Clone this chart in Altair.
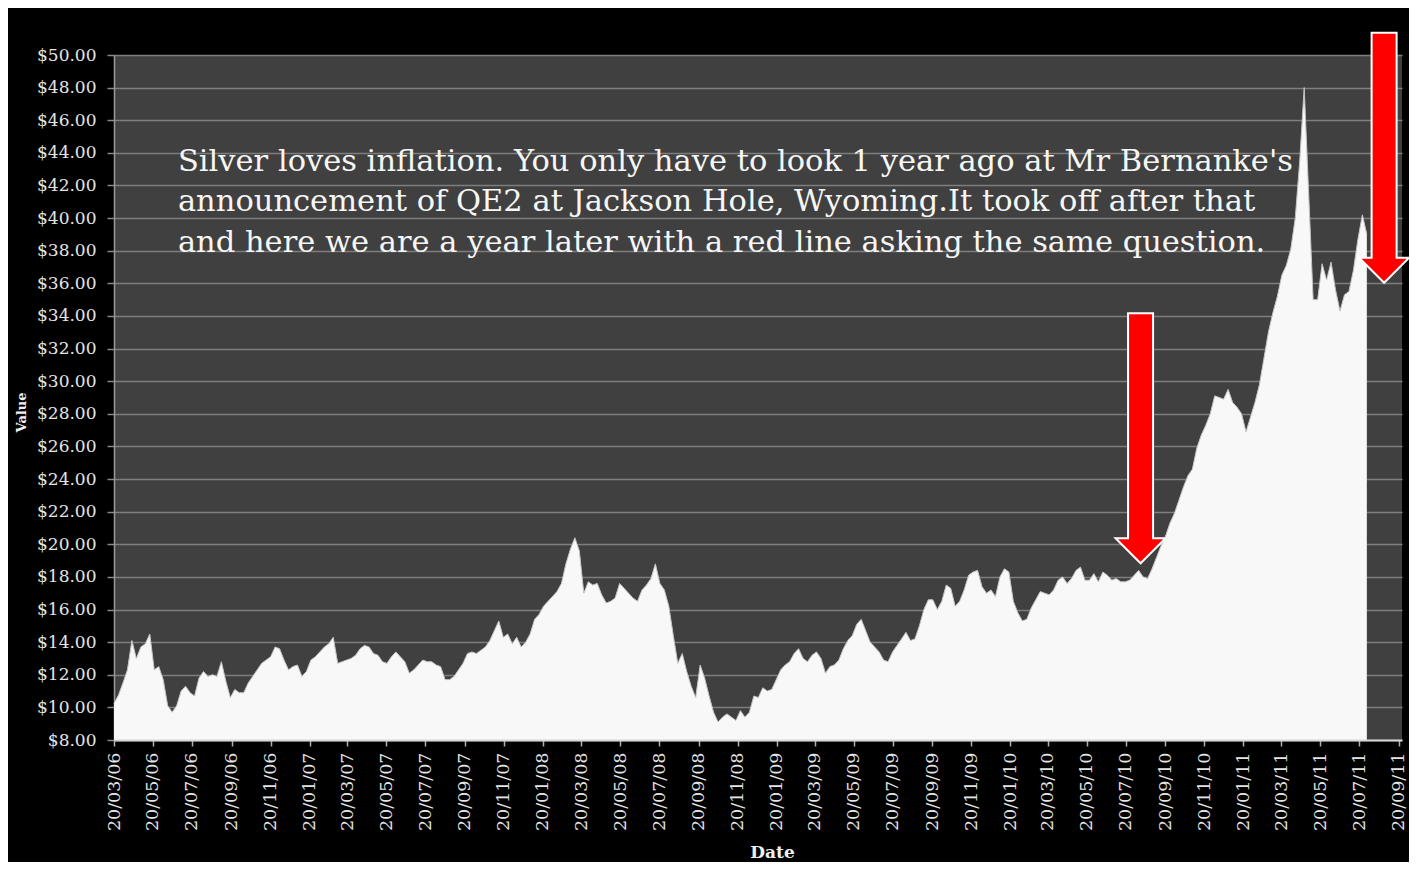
import altair as alt
import pandas as pd

# Weekly silver price readings (USD/oz), starting 20/03/2006
prices = [
    10.25, 10.75, 11.5, 12.3, 14.1, 13.0, 13.7, 13.9, 14.5, 12.3,
    12.5, 11.7, 10.1, 9.7, 10.1, 11.0, 11.3, 10.9, 10.7, 11.8,
    12.2, 11.9, 12.0, 11.9, 12.8, 11.6, 10.6, 11.1, 10.9, 10.9,
    11.5, 11.9, 12.3, 12.7, 12.9, 13.1, 13.7, 13.6, 12.9, 12.3,
    12.5, 12.6, 11.9, 12.2, 12.9, 13.1, 13.4, 13.7, 13.9, 14.3,
    12.7, 12.8, 12.9, 13.0, 13.2, 13.6, 13.8, 13.7, 13.3, 13.2,
    12.8, 12.7, 13.1, 13.4, 13.1, 12.8, 12.1, 12.3, 12.6, 12.9,
    12.8, 12.8, 12.6, 12.5, 11.7, 11.7, 11.9, 12.3, 12.7, 13.3,
    13.4, 13.3, 13.5, 13.7, 14.1, 14.7, 15.3, 14.3, 14.5, 13.9,
    14.3, 13.7, 14.0, 14.5, 15.4, 15.7, 16.2, 16.5, 16.8, 17.1,
    17.6, 18.8, 19.7, 20.4, 19.6, 17.0, 17.7, 17.5, 17.6, 16.9,
    16.4, 16.5, 16.7, 17.6, 17.3, 17.0, 16.7, 16.5, 17.2, 17.5,
    17.9, 18.8, 17.6, 17.2, 16.2, 14.4, 12.7, 13.3, 12.2, 11.3,
    10.6, 12.6, 11.8, 10.7, 9.7, 9.1, 9.4, 9.6, 9.4, 9.2,
    9.8, 9.4, 9.7, 10.7, 10.6, 11.2, 11.0, 11.1, 11.7, 12.3,
    12.6, 12.8, 13.3, 13.6, 13.0, 12.8, 13.2, 13.4, 13.0, 12.1,
    12.5, 12.6, 12.9, 13.6, 14.1, 14.4, 15.1, 15.4, 14.7, 14.0,
    13.7, 13.4, 12.9, 12.8, 13.4, 13.8, 14.2, 14.6, 14.1, 14.2,
    15.0, 16.0, 16.6, 16.6, 16.0, 16.5, 17.5, 17.3, 16.2, 16.5,
    17.2, 18.1, 18.3, 18.4, 17.4, 17.0, 17.2, 16.8, 18.0, 18.5,
    18.3, 16.5, 15.8, 15.3, 15.4, 16.1, 16.6, 17.1, 17.0, 16.9,
    17.2, 17.8, 18.0, 17.6, 17.9, 18.4, 18.6, 17.8, 17.8, 18.2,
    17.7, 18.3, 18.1, 17.8, 17.9, 17.7, 17.7, 17.8, 18.1, 18.4,
    18.0, 17.9, 18.5, 19.2, 19.9, 20.5, 21.3, 21.9, 22.7, 23.5,
    24.2, 24.6, 25.9, 26.7, 27.3, 28.0, 29.1, 29.0, 28.9, 29.5,
    28.7, 28.4, 28.0, 26.9, 27.8, 28.7, 29.8, 31.4, 33.0, 34.2,
    35.2, 36.5, 37.1, 38.1, 40.0, 43.5, 48.0, 41.5, 35.0, 35.0,
    37.2, 36.2, 37.3, 35.6, 34.3, 35.3, 35.5, 36.8, 38.7, 40.2,
    39.0,
]
first_date = "2006-03-20"
dates = pd.date_range(first_date, periods=len(prices), freq="7D")
df = pd.DataFrame({"Date": dates, "Value": prices})

x_tick_labels = [
    "20/03/06", "20/05/06", "20/07/06", "20/09/06", "20/11/06",
    "20/01/07", "20/03/07", "20/05/07", "20/07/07", "20/09/07", "20/11/07",
    "20/01/08", "20/03/08", "20/05/08", "20/07/08", "20/09/08", "20/11/08",
    "20/01/09", "20/03/09", "20/05/09", "20/07/09", "20/09/09", "20/11/09",
    "20/01/10", "20/03/10", "20/05/10", "20/07/10", "20/09/10", "20/11/10",
    "20/01/11", "20/03/11", "20/05/11", "20/07/11", "20/09/11",
]
y_ticks = [8, 10, 12, 14, 16, 18, 20, 22, 24, 26, 28, 30, 32, 34, 36, 38,
           40, 42, 44, 46, 48, 50]
y_floor = 8


def to_dt(s):
    return alt.DateTime(year=2000 + int(s[6:8]), month=int(s[3:5]), date=int(s[0:2]))


x_ticks = [to_dt(s) for s in x_tick_labels]
x_domain = [alt.DateTime(year=2006, month=3, date=20),
            alt.DateTime(year=2011, month=9, date=25)]

annotation_lines = [
    "Silver loves inflation. You only have to look 1 year ago at Mr Bernanke's",
    "announcement of QE2 at Jackson Hole, Wyoming.It took off after that",
    "and here we are a year later with a red line asking the same question.",
]
annot_df = pd.DataFrame({"Date": [pd.Timestamp("2006-06-28")], "Value": [42.9]})

arrow_dates = ["2010-08-12", "2011-08-28"]
arrow_values = [26.5, 43.7]
arrow_df = pd.DataFrame({"Date": pd.to_datetime(arrow_dates), "Value": arrow_values})
arrow_path = "M -0.5 -5 L 0.5 -5 L 0.5 4 L 1 4 L 0 5 L -1 4 L -0.5 4 Z"

FONT = "DejaVu Serif"

x_enc = alt.X(
    "Date:T",
    scale=alt.Scale(domain=x_domain),
    axis=alt.Axis(
        values=x_ticks, tickCount=100, format="%d/%m/%y", labelAngle=-90,
        labelAlign="right", labelBaseline="middle", labelFont=FONT,
        labelFontSize=17.5, labelColor="#e4e4e4", labelPadding=6,
        labelOverlap=False, labelFlush=False,
        tickColor="#b0b0b0", tickSize=6, tickWidth=1.5,
        domainColor="#d6d6d6", domainWidth=2, grid=False, zindex=1,
        title="Date", titleFont=FONT, titleFontSize=17, titleFontWeight="bold",
        titleColor="#f0f0f0", titleX=658, titleY=117, titleBaseline="alphabetic",
    ),
)
y_enc = alt.Y(
    "Value:Q",
    scale=alt.Scale(domain=[8, 50], nice=False, zero=False),
    axis=alt.Axis(
        values=y_ticks, tickCount=100, format="$.2f", labelFont=FONT,
        labelFontSize=17, labelColor="#e4e4e4", labelPadding=11,
        labelOverlap=False,
        tickColor="#8a8a8a", tickSize=7, tickWidth=1.5,
        domainColor="#9a9a9a", domainWidth=1.5,
        grid=True, gridColor="#7e7e7e", gridWidth=1.5,
        title="Value", titleFont=FONT, titleFontSize=13, titleFontWeight="bold",
        titleColor="#f0f0f0", titleAngle=-90, titleX=-86, titleY=357,
        titleAlign="center", titleBaseline="bottom",
    ),
)

area = alt.Chart(df).mark_area(
    color="#f8f8f8", opacity=1,
    line={"color": "#c4c4c4", "strokeWidth": 1},
).encode(x=x_enc, y=y_enc, y2=alt.datum(y_floor))

text = alt.Chart(annot_df).mark_text(
    text=annotation_lines, align="left", baseline="alphabetic",
    font=FONT, fontSize=30.5, lineHeight=40.5, color="#f6f6f6",
).encode(x="Date:T", y="Value:Q")

arrows = alt.Chart(arrow_df).mark_point(
    shape=arrow_path, size=2500, filled=True, fill="#ff0000", opacity=1,
    stroke="#ffffff", strokeWidth=2,
).encode(x="Date:T", y="Value:Q")

chart = alt.layer(area, text, arrows).properties(
    width=1288, height=685, background="black",
    padding={"left": 106, "top": 47, "right": 7, "bottom": 122},
    autosize=alt.AutoSizeParams(type="none"),
).configure_view(fill="#404040", strokeWidth=0)

chart.save("out.html", embed_options={"renderer": "svg", "actions": False})
